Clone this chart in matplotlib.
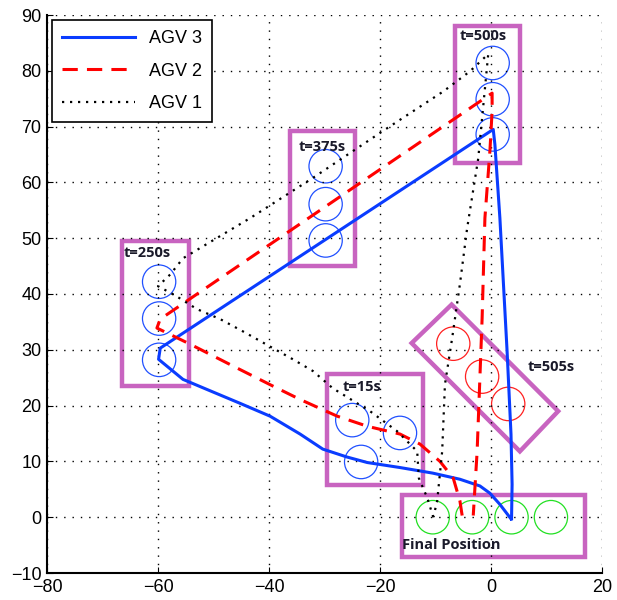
import matplotlib
matplotlib.use("Agg")
import matplotlib.pyplot as plt
from matplotlib.patches import Circle, Polygon, Rectangle

# trajectories (final position -> t=15 -> t=250 -> t=375 -> t=500 -> back down)
agv3_x = [3.6, 1.6, -0.2, -2.0, -5.6, -10.5, -16.4, -22.3, -26.0, -30.3, -34.4, -39.8,
          -45.2, -51.2, -55.5, -59.9, -59.6, 0.4, 0.7, 1.6, 2.9, 3.6, 3.8, 3.7]
agv3_y = [-0.3, 2.3, 4.3, 5.6, 6.8, 7.9, 8.9, 9.8, 10.8, 12.2, 14.9, 18.1,
          20.4, 22.9, 24.7, 28.3, 30.3, 69.5, 66.8, 53.6, 29.7, 14.9, 5.9, -0.3]

agv2_x = [-5.2, -5.6, -6.8, -9.2, -12.8, -16.4, -22.3, -27.7, -34.4, -39.3, -46.5, -54.2,
          -60.2, -59.6, 0.2, 0.2, -0.2, -1.1, -1.6, -2.5, -3.2]
agv2_y = [0.3, 2.9, 7.0, 10.0, 13.1, 14.9, 16.3, 18.1, 21.1, 23.5, 27.1, 31.0,
          33.9, 35.5, 76.0, 72.8, 65.6, 53.6, 35.7, 11.8, 0.3]

agv1_x = [-10.4, -11.5, -13.0, -13.3, -16.9, -21.8, -28.5, -32.1, -35.7, -39.3, -44.7, -48.8,
          -53.0, -57.0, -60.0, -57.8, -55.5, -43.4, -32.1, -19.5, -8.6, -3.8, -0.5,
          -2.3, -4.3, -5.6, -7.0, -8.3, -8.8, -9.7, -10.4]
agv1_y = [0.0, 3.5, 7.0, 11.8, 15.4, 19.0, 23.1, 26.2, 28.3, 30.3, 33.3, 35.5,
          37.3, 39.8, 41.4, 43.5, 46.4, 53.6, 60.8, 69.2, 76.3, 79.9, 83.0,
          64.3, 51.8, 41.8, 32.1, 23.8, 11.8, 2.9, 0.0]

# AGV footprints at snapshot times
snap_labels = ["t=15s", "t=250s", "t=375s", "t=500s"]
snap_x = [[-25.0, -16.4, -23.4], [-59.8, -59.8, -59.8], [-29.8, -29.8, -29.8], [0.3, 0.3, 0.3]]
snap_y = [[17.4, 15.1, 9.9], [42.2, 35.6, 28.2], [62.9, 56.1, 49.6], [81.4, 74.9, 68.6]]
t505_x = [-6.8, -1.6, 3.1]
t505_y = [31.1, 25.2, 20.3]
final_x = [-10.5, -3.4, 3.7, 10.8]
final_y = [0.0, 0.0, 0.0, 0.0]
radius = 3.0

# highlight boxes (x0, y0, x1, y1)
boxes = [(-29.6, 5.7, -12.3, 25.7), (-66.5, 23.5, -54.4, 49.5),
         (-36.2, 45.0, -24.5, 69.2), (-6.4, 63.5, 5.2, 88.0), (-16.1, -7.2, 16.9, 3.9)]
t505_box = [(-7.1, 38.1), (12.1, 19.0), (5.2, 11.8), (-14.3, 31.2)]

# annotations: (text, x, y)
notes = [("t=15s", -26.8, 23.3), ("t=250s", -66.2, 47.3), ("t=375s", -34.6, 66.4),
         ("t=500s", -5.6, 86.3), ("t=505s", 6.6, 27.0), ("Final Position", -16.0, -4.9)]

BOX = "#c864c0"
BLUE = "#0a3cff"

fig = plt.figure(figsize=(6.17, 6.0), dpi=100)
ax = fig.add_axes([0.0762, 0.045, 0.8995, 0.93])

ax.plot(agv3_x, agv3_y, "-", color=BLUE, lw=2.2, label="AGV 3")
ax.plot(agv2_x, agv2_y, "--", color="red", lw=2.2, dashes=(5, 3), label="AGV 2")
ax.plot(agv1_x, agv1_y, color="black", lw=1.6, ls=(0, (1, 2.6)), label="AGV 1")

for xs, ys in zip(snap_x, snap_y):
    for cx, cy in zip(xs, ys):
        ax.add_patch(Circle((cx, cy), radius, fill=False, ec="#2050ff", lw=0.9))
for cx, cy in zip(t505_x, t505_y):
    ax.add_patch(Circle((cx, cy), radius, fill=False, ec="#ff2020", lw=0.9))
for cx, cy in zip(final_x, final_y):
    ax.add_patch(Circle((cx, cy), radius, fill=False, ec="#22e022", lw=0.9))

for x0, y0, x1, y1 in boxes:
    ax.add_patch(Rectangle((x0, y0), x1 - x0, y1 - y0, fill=False, ec=BOX, lw=3.2))
ax.add_patch(Polygon(t505_box, closed=True, fill=False, ec=BOX, lw=3.2))

for txt, tx, ty in notes:
    ax.text(tx, ty, txt, fontsize=10.5, fontweight="bold", color="#1a1a2a",
            family="Open Sans", va="center", ha="left")

ax.set_xlim(-80, 20)
ax.set_ylim(-10, 90)
ax.set_xticks(range(-80, 21, 20))
ax.set_yticks(range(-10, 91, 10))
ax.grid(True, ls=(0, (1, 5)), color="black", lw=1.0)
ax.spines["top"].set_visible(False)
ax.spines["right"].set_visible(False)
ax.spines["left"].set_linewidth(1.5)
ax.spines["bottom"].set_linewidth(1.5)
ax.tick_params(direction="in", length=4, labelsize=13, pad=4)
for lab in ax.get_xticklabels() + ax.get_yticklabels():
    lab.set_family("Liberation Sans")

leg = ax.legend(loc="upper left", handlelength=4.0, fancybox=False,
                edgecolor="black", framealpha=1, borderaxespad=0.3,
                labelspacing=0.85, borderpad=0.55,
                prop={"family": "Liberation Sans", "size": 13})
leg.get_frame().set_linewidth(1.2)

fig.savefig("out.png", dpi=100)
